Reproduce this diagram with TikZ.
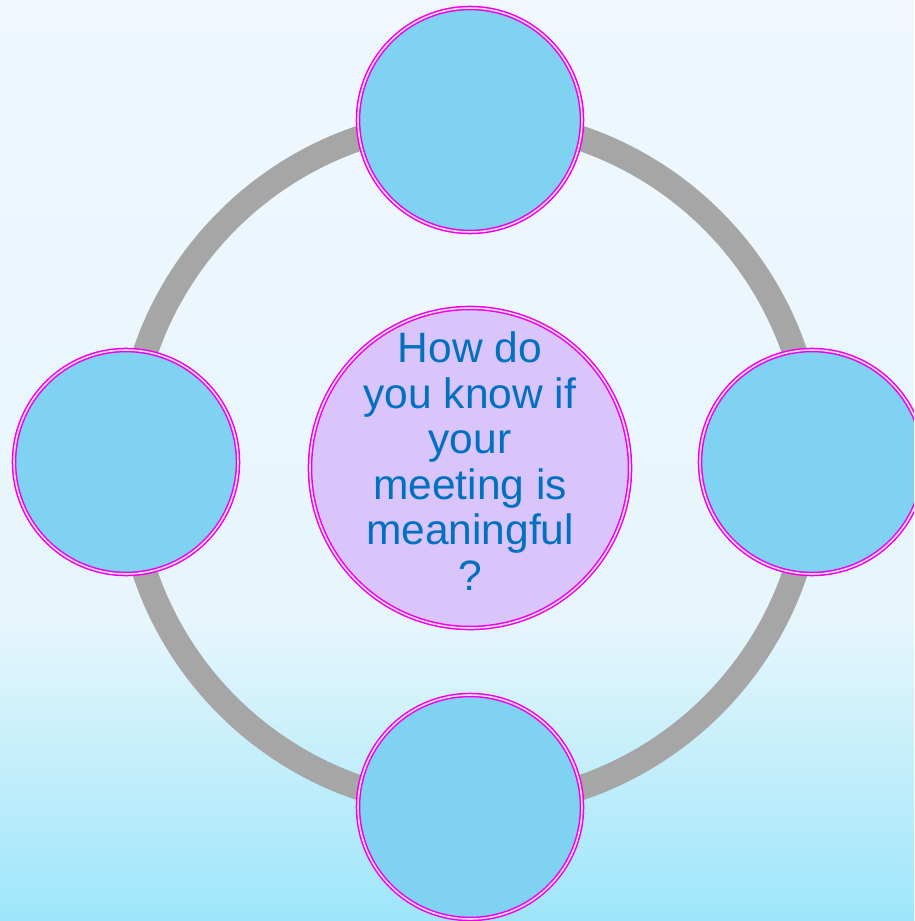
\documentclass[tikz,border=0pt]{standalone}
\usepackage{fontspec}
\setmainfont{Liberation Sans}
\definecolor{bgtop}{HTML}{F0F7FE}
\definecolor{bgmid}{HTML}{E6F6FC}
\definecolor{bgbot}{HTML}{9EE6FA}
\definecolor{ringgray}{HTML}{A6A6A6}
\definecolor{bluefill}{HTML}{80D2F2}
\definecolor{lavfill}{HTML}{D9C4FC}
\definecolor{rimmag}{HTML}{EE00EE}
\definecolor{txtblue}{HTML}{0070C0}
\begin{document}
\begin{tikzpicture}[x=1pt,y=-1pt,
  bubble/.style={circle,draw=rimmag,line width=1.5pt,double=white!85!magenta,double distance=1.6pt,inner sep=0pt},
  outerb/.style={bubble,fill=bluefill,minimum size=224pt},
  centerb/.style={bubble,fill=lavfill,minimum size=320pt},
  ringline/.style={draw=ringgray,line width=25pt}]
\useasboundingbox (0,0) rectangle (914,921);
\clip (0,0) rectangle (914,921);
\shade[top color=bgtop,bottom color=bgmid] (0,0) rectangle (914,620);
\shade[top color=bgmid,bottom color=bgbot] (0,619) rectangle (914,921);
\coordinate (hub) at (470,463);
\draw[ringline] (hub) circle[radius=343pt];
\node[outerb] (top) at (470,120) {};
\node[outerb] (bottom) at (470,807) {};
\node[outerb] (left) at (126,462) {};
\node[outerb] (right) at (812,462) {};
\node[centerb] (center) at (470,468) {};
\node[text=txtblue,align=center,font=\fontsize{42.5}{45.5}\selectfont,inner sep=0pt] (question) at (470,461)
  {How do\\you know if\\your\\meeting is\\meaningful\\?};
\end{tikzpicture}
\end{document}
